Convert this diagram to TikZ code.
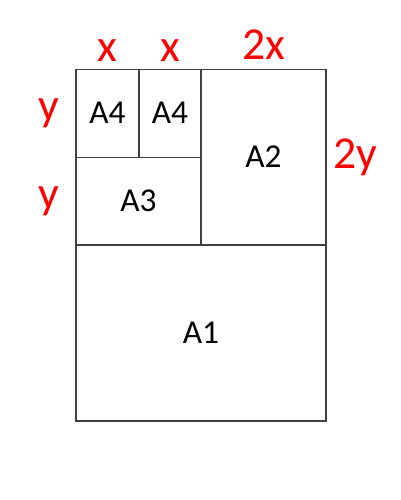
\documentclass[tikz,border=0pt]{standalone}
\usepackage{fontspec}
\setmainfont{Carlito}
\usepackage{xcolor}
\usetikzlibrary{positioning}
\tikzset{
  sheet/.style={rectangle,draw=black!75,line width=0.6pt,inner sep=0pt,outer sep=0pt,font=\fontsize{19}{22}\selectfont},
  dim/.style={text=red,inner sep=1pt,font=\fontsize{26}{30}\selectfont}
}

\begin{document}
\begin{tikzpicture}[x=0.02cm,y=-0.02cm]
    \useasboundingbox (0,0) rectangle (400,500);
    \node[sheet, minimum width=5cm, minimum height=3.52cm] (a1) at (201,333) {A1};
    \node[sheet, minimum width=2.5cm, minimum height=3.52cm, anchor=south east] (a2) at (a1.north east) {A2};
    \node[sheet, minimum width=2.5cm, minimum height=1.76cm, anchor=south east] (a3) at (a2.south west) {A3};
    \node[sheet, minimum width=1.26cm, minimum height=1.76cm, anchor=south west] (a4l) at (a3.north west) {A4};
    \node[sheet, minimum width=1.24cm, minimum height=1.76cm, anchor=south east] (a4r) at (a3.north east) {A4};

    % side lengths
    \node[dim, above=1mm of a4l.north] (xl) {x};
    \node[dim, above=1mm of a4r.north] (xr) {x};
    \node[dim, above=1.5mm of a2.north] (xx) {2x};
    \node[dim, left=3mm of a4l.west] (yt) {y};
    \node[dim, left=3mm of a3.west] (yb) {y};
    \node[dim, right=1mm of a2.east] (yy) {2y};
\end{tikzpicture}
\end{document}
